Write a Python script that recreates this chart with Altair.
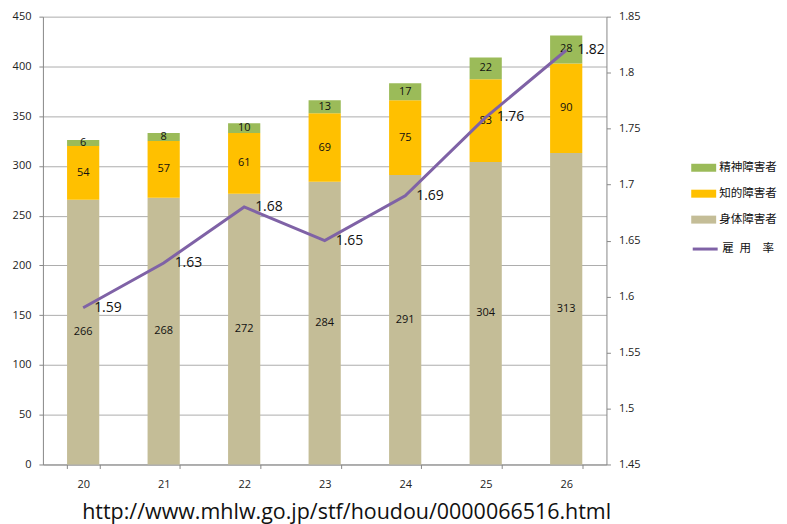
import altair as alt
import pandas as pd

years = ["20", "21", "22", "23", "24", "25", "26"]
shintai = [266, 268, 272, 284, 291, 304, 313]   # 身体障害者
chiteki = [54, 57, 61, 69, 75, 83, 90]          # 知的障害者
seishin = [6, 8, 10, 13, 17, 22, 28]            # 精神障害者
rate = [1.59, 1.63, 1.68, 1.65, 1.69, 1.76, 1.82]  # 雇用率

categories = ["精神障害者", "知的障害者", "身体障害者"]
cat_colors = ["#9BBB59", "#FFC000", "#C4BD97"]
rate_label = "雇\u2002用\u3000率"
rate_color = "#7F62A6"
left_ticks = [0, 50, 100, 150, 200, 250, 300, 350, 400, 450]
right_ticks = [1.45, 1.5, 1.55, 1.6, 1.65, 1.7, 1.75, 1.8, 1.85]
url = "http://www.mhlw.go.jp/stf/houdou/0000066516.html"

rows = []
for i, y in enumerate(years):
    rows.append({"year": y, "cat": "身体障害者", "value": shintai[i], "ord": 0})
    rows.append({"year": y, "cat": "知的障害者", "value": chiteki[i], "ord": 1})
    rows.append({"year": y, "cat": "精神障害者", "value": seishin[i], "ord": 2})
bars_df = pd.DataFrame(rows)
line_df = pd.DataFrame({"year": years, "rate": rate, "series": [rate_label] * len(years)})

FONT = "Open Sans"
JP = "Noto Sans CJK JP"

x_enc = alt.X(
    "year:N",
    sort=years,
    scale=alt.Scale(paddingInner=0.6, paddingOuter=0.3),
    axis=alt.Axis(
        title=None, labelAngle=0, tickBand="extent", tickSize=4,
        labelPadding=10, labelFontSize=11, labelFont=FONT, labelColor="#222222",
        domainColor="#888888", tickColor="#888888", grid=False,
    ),
)

left_axis = alt.Axis(
    title=None, values=left_ticks, tickSize=4, labelPadding=8,
    labelFontSize=11, labelFont=FONT, labelColor="#222222",
    domainColor="#888888", tickColor="#888888",
    grid=True, gridColor="#ADADAD", gridWidth=1,
)
left_scale = alt.Scale(domain=[0, 450], nice=False)

base = (
    alt.Chart(bars_df)
    .transform_stack(
        stack="value", groupby=["year"], as_=["y0", "y1"],
        sort=[alt.SortField("ord", order="ascending")],
    )
    .transform_calculate(mid="(datum.y0 + datum.y1) / 2")
)

bars = base.mark_bar().encode(
    x=x_enc,
    y=alt.Y("y0:Q", scale=left_scale, axis=left_axis),
    y2="y1:Q",
    color=alt.Color(
        "cat:N",
        scale=alt.Scale(domain=categories, range=cat_colors),
        legend=alt.Legend(
            title=None, orient="none", legendX=650, legendY=139,
            symbolType="M-1,-0.32H1V0.32H-1Z", symbolSize=625,
            symbolStrokeWidth=0, labelFont=JP, labelFontSize=11.6,
            labelColor="#111111", rowPadding=7, labelOffset=3,
        ),
    ),
)

bar_text = base.mark_text(fontSize=11, font=FONT, color="#111111", baseline="middle").encode(
    x=x_enc,
    y=alt.Y("mid:Q", scale=left_scale, axis=left_axis),
    text=alt.Text("value:Q"),
)

right_scale = alt.Scale(domain=[1.45, 1.85], nice=False, zero=False)
right_axis = alt.Axis(
    title=None, orient="right", values=right_ticks, format="~g",
    tickSize=4, labelPadding=8, labelFontSize=11, labelFont=FONT,
    labelColor="#222222", domainColor="#888888", tickColor="#888888", grid=False,
)

line = alt.Chart(line_df).mark_line(strokeWidth=3).encode(
    x=x_enc,
    y=alt.Y("rate:Q", scale=right_scale, axis=right_axis),
    stroke=alt.Stroke(
        "series:N",
        scale=alt.Scale(domain=[rate_label], range=[rate_color]),
        legend=alt.Legend(
            title=None, orient="none", legendX=650, legendY=219,
            symbolType="stroke", symbolSize=625, symbolStrokeWidth=3,
            labelFont=JP, labelFontSize=11.6, labelColor="#111111", labelOffset=3,
        ),
    ),
)

line_text = alt.Chart(line_df).mark_text(
    align="left", baseline="middle", dx=11, fontSize=14, font=FONT, color="#111111"
).encode(
    x=x_enc,
    y=alt.Y("rate:Q", scale=right_scale, axis=right_axis),
    text=alt.Text("rate:Q", format=".2f"),
)

chart = (
    alt.layer(alt.layer(bars, bar_text), alt.layer(line, line_text))
    .resolve_scale(y="independent")
    .properties(
        width=565,
        height=449,
        autosize=alt.AutoSizeParams(type="none"),
        padding={"left": 35, "top": 8, "right": 173, "bottom": 59},
        title=alt.TitleParams(
            url, orient="bottom", anchor="middle", fontSize=21.5, font=FONT,
            fontWeight="normal", color="#111111", offset=13, dx=22,
        ),
    )
    .configure_view(stroke="transparent")
)

chart.save("out.html", embed_options={"renderer": "svg", "actions": False})
